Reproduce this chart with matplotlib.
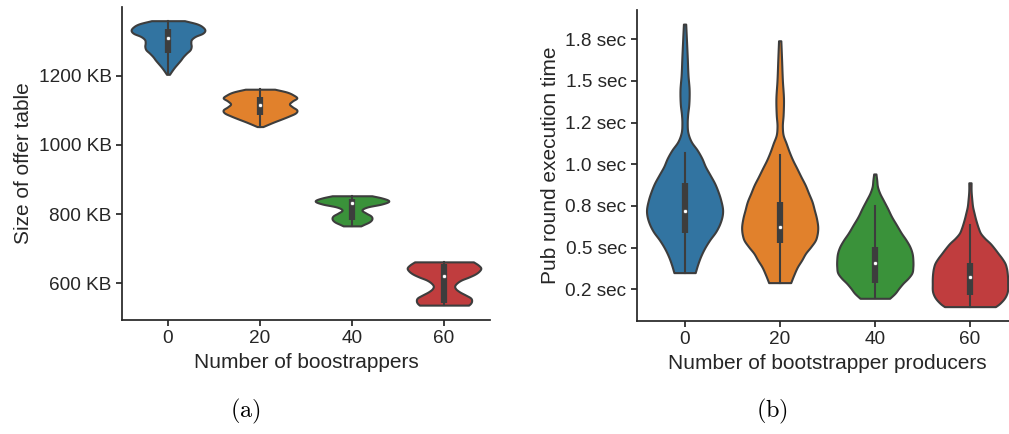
import numpy as np
import matplotlib
matplotlib.use("Agg")
import matplotlib.pyplot as plt
from matplotlib.ticker import FuncFormatter, FixedLocator

# ---------------- data ----------------
categories = [0, 20, 40, 60]
colors = ["#3274a1", "#e1812c", "#3a923a", "#c03d3e"]

# Panel (a): size of offer table (KB); density profiles relative to max
a0_y = [1359, 1350, 1340, 1330, 1322, 1314, 1305, 1295, 1285, 1275, 1265, 1255, 1245, 1235, 1225, 1215, 1204]
a0_d = [0.45, 0.78, 0.95, 1.0, 0.93, 0.75, 0.64, 0.62, 0.63, 0.60, 0.50, 0.41, 0.34, 0.26, 0.18, 0.11, 0.04]
a1_y = [1161, 1153, 1144, 1136, 1127, 1118, 1110, 1101, 1092, 1084, 1075, 1066, 1058, 1053]
a1_d = [0.40, 0.72, 0.91, 1.0, 0.88, 0.80, 0.88, 1.0, 0.96, 0.80, 0.59, 0.37, 0.19, 0.08]
a2_y = [853, 847, 838, 829, 821, 812, 803, 795, 786, 777, 770, 766]
a2_d = [0.54, 0.80, 1.0, 0.80, 0.43, 0.27, 0.38, 0.51, 0.54, 0.46, 0.32, 0.24]
a3_y = [662, 653, 644, 636, 627, 618, 610, 601, 592, 584, 575, 566, 558, 549, 542, 537]
a3_d = [0.80, 0.93, 1.0, 0.96, 0.85, 0.67, 0.48, 0.35, 0.29, 0.32, 0.43, 0.59, 0.72, 0.75, 0.72, 0.67]
# whisker low, q1, median, q3, whisker high
a_stats = [[1204, 1265, 1310, 1335, 1359],
           [1053, 1086, 1114, 1139, 1161],
           [766, 783, 831, 843, 853],
           [537, 542, 622, 656, 662]]
a_yticks = [600, 800, 1000, 1200]

# Panel (b): pub round execution time (sec)
b0_y = [1.841, 1.745, 1.645, 1.535, 1.446, 1.404, 1.356, 1.296, 1.248, 1.188, 1.134, 1.086, 1.038,
        0.985, 0.936, 0.886, 0.836, 0.786, 0.716, 0.646, 0.596, 0.546, 0.498, 0.446, 0.396, 0.350]
b0_d = [0.03, 0.05, 0.07, 0.09, 0.12, 0.12, 0.11, 0.08, 0.07, 0.09, 0.18, 0.33, 0.45,
        0.55, 0.67, 0.79, 0.88, 0.95, 1.0, 0.93, 0.82, 0.66, 0.53, 0.42, 0.34, 0.28]
b1_y = [1.741, 1.626, 1.506, 1.386, 1.296, 1.225, 1.176, 1.126, 1.075, 1.026, 0.976, 0.925, 0.876,
        0.826, 0.776, 0.726, 0.672, 0.616, 0.576, 0.546, 0.506, 0.466, 0.426, 0.386, 0.336, 0.290]
b1_d = [0.03, 0.05, 0.07, 0.10, 0.09, 0.07, 0.09, 0.17, 0.25, 0.34, 0.45, 0.56, 0.67,
        0.76, 0.85, 0.91, 0.97, 1.0, 0.98, 0.94, 0.82, 0.68, 0.58, 0.47, 0.37, 0.29]
b2_y = [0.942, 0.906, 0.866, 0.826, 0.786, 0.738, 0.686, 0.636, 0.586, 0.546, 0.506, 0.466, 0.426,
        0.386, 0.346, 0.318, 0.286, 0.256, 0.226, 0.196]
b2_d = [0.03, 0.05, 0.07, 0.13, 0.22, 0.33, 0.44, 0.57, 0.70, 0.82, 0.92, 0.98, 1.0,
        1.0, 0.97, 0.88, 0.74, 0.63, 0.53, 0.39]
b3_y = [0.889, 0.846, 0.786, 0.746, 0.706, 0.678, 0.646, 0.618, 0.586, 0.556, 0.526, 0.496, 0.466,
        0.436, 0.406, 0.376, 0.346, 0.286, 0.226, 0.198, 0.176, 0.159, 0.146]
b3_d = [0.03, 0.03, 0.05, 0.07, 0.11, 0.14, 0.18, 0.22, 0.28, 0.39, 0.53, 0.64, 0.74,
        0.84, 0.92, 0.96, 0.98, 0.99, 0.97, 0.91, 0.83, 0.75, 0.67]
b_stats = [[0.350, 0.586, 0.721, 0.889, 1.069],
           [0.290, 0.526, 0.624, 0.776, 1.056],
           [0.196, 0.290, 0.410, 0.502, 0.750],
           [0.146, 0.216, 0.322, 0.406, 0.636]]
b_yticks = [0.25, 0.50, 0.75, 1.00, 1.25, 1.50, 1.75]

# ---------------- style ----------------
plt.rcParams["font.family"] = ["Liberation Sans", "DejaVu Sans"]
TXT = "#262626"
EDGE = "#3d3d3d"
plt.rcParams.update({
    "text.color": TXT, "axes.labelcolor": TXT,
    "xtick.color": TXT, "ytick.color": TXT,
    "axes.edgecolor": TXT, "axes.linewidth": 1.25,
    "xtick.major.width": 1.25, "ytick.major.width": 1.25,
    "xtick.major.size": 4.5, "ytick.major.size": 4.5,
    "xtick.labelsize": 13.7, "ytick.labelsize": 13.7,
    "axes.labelsize": 15,
})

fig = plt.figure(figsize=(10.09, 4.34), dpi=100)
W, H = 1009.0, 434.0
ax_a = fig.add_axes([122 / W, 1 - 320 / H, (490 - 122) / W, (320 - 6.5) / H])
ax_b = fig.add_axes([637 / W, 1 - 320.7 / H, (1017.5 - 637) / W, (320.7 - 10) / H])


def smooth_outline(ys, ds, n=10):
    """Cubic Hermite curve through the read outline points (rendering only)."""
    y = np.asarray(ys, float)
    d = np.asarray(ds, float)
    m = np.gradient(d, y)
    out_y, out_d = [], []
    for i in range(len(y) - 1):
        h = y[i + 1] - y[i]
        t = np.linspace(0, 1, n, endpoint=False)
        h00 = 2 * t**3 - 3 * t**2 + 1
        h10 = t**3 - 2 * t**2 + t
        h01 = -2 * t**3 + 3 * t**2
        h11 = t**3 - t**2
        out_y.append(y[i] + t * h)
        out_d.append(h00 * d[i] + h10 * h * m[i] + h01 * d[i + 1] + h11 * h * m[i + 1])
    out_y.append([y[-1]])
    out_d.append([d[-1]])
    return np.concatenate(out_y), np.clip(np.concatenate(out_d), 0.005, None)


def draw_violin(ax, pos, ys, ds, stats, color, lw=1.5):
    sy, sd = smooth_outline(ys, ds)
    half = 0.4 * sd
    ax.fill_betweenx(sy, pos - half, pos + half, facecolor=color,
                     edgecolor=EDGE, linewidth=lw, zorder=1)
    lo, q1, med, q3, hi = stats
    ax.plot([pos, pos], [lo, hi], color=EDGE, lw=lw, zorder=2)
    ax.plot([pos, pos], [q1, q3], color=EDGE, lw=lw * 3,
            solid_capstyle="butt", zorder=2)
    ax.scatter([pos], [med], s=(lw * 2) ** 2, color="white",
               edgecolor=EDGE, linewidth=0.5, zorder=3)


a_profiles = [(a0_y, a0_d), (a1_y, a1_d), (a2_y, a2_d), (a3_y, a3_d)]
b_profiles = [(b0_y, b0_d), (b1_y, b1_d), (b2_y, b2_d), (b3_y, b3_d)]

for i, ((ys, ds), st) in enumerate(zip(a_profiles, a_stats)):
    draw_violin(ax_a, i, ys, ds, st, colors[i])
for i, ((ys, ds), st) in enumerate(zip(b_profiles, b_stats)):
    draw_violin(ax_b, i, ys, ds, st, colors[i])

for ax in (ax_a, ax_b):
    ax.set_xlim(-0.5, 3.5)
    ax.set_xticks(range(len(categories)))
    ax.set_xticklabels([str(c) for c in categories])
    for s in ("top", "right"):
        ax.spines[s].set_visible(False)
    ax.tick_params(axis="both", pad=3)

ax_a.set_ylim(494, 1400)
ax_a.yaxis.set_major_locator(FixedLocator(a_yticks))
ax_a.yaxis.set_major_formatter(FuncFormatter(lambda v, p: f"{v:.0f} KB"))
ax_a.set_xlabel("Number of boostrappers")
ax_a.set_ylabel("Size of offer table")

ax_b.set_ylim(0.0616, 1.9255)
ax_b.yaxis.set_major_locator(FixedLocator(b_yticks))
ax_b.yaxis.set_major_formatter(FuncFormatter(lambda v, p: f"{v:.1f} sec"))
ax_b.set_xlabel("Number of bootstrapper producers")
ax_b.set_ylabel("Pub round execution time")

fig.text(245 / W, 1 - 411 / H, r"$\mathrm{(a)}$", ha="center", va="center",
         fontsize=17.5, math_fontfamily="cm", color="black")
fig.text(772 / W, 1 - 411 / H, r"$\mathrm{(b)}$", ha="center", va="center",
         fontsize=17.5, math_fontfamily="cm", color="black")

fig.savefig("out.png", dpi=100)
